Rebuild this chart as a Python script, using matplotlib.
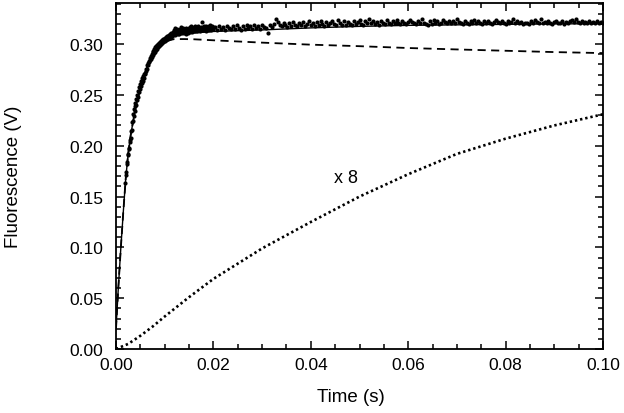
import numpy as np
import matplotlib
matplotlib.use("Agg")
import matplotlib.pyplot as plt
from matplotlib.ticker import MultipleLocator, FormatStrFormatter

plt.rcParams['font.family'] = ['Liberation Sans', 'DejaVu Sans']

# measured points, fast part (instrument time base 0.1 ms)
t_fast = np.linspace(0.0019, 0.0200, 182)
f_fast = [
    0.163, 0.171, 0.174, 0.182, 0.184, 0.191, 0.192, 0.198, 0.197, 0.204,
    0.206, 0.208, 0.215, 0.216, 0.223, 0.224, 0.231, 0.229, 0.236, 0.234,
    0.239, 0.242, 0.240, 0.246, 0.245, 0.250, 0.248, 0.254, 0.253, 0.258,
    0.256, 0.261, 0.259, 0.264, 0.262, 0.267, 0.264, 0.269, 0.267, 0.271,
    0.272, 0.271, 0.276, 0.274, 0.279, 0.276, 0.281, 0.279, 0.283, 0.282,
    0.286, 0.284, 0.288, 0.285, 0.290, 0.287, 0.292, 0.289, 0.293, 0.291,
    0.295, 0.292, 0.297, 0.294, 0.298, 0.295, 0.299, 0.297, 0.300, 0.298,
    0.301, 0.299, 0.302, 0.300, 0.303, 0.301, 0.304, 0.302, 0.305, 0.303,
    0.305, 0.303, 0.306, 0.304, 0.307, 0.305, 0.308, 0.305, 0.308, 0.306,
    0.309, 0.306, 0.310, 0.307, 0.311, 0.308, 0.310, 0.309, 0.312, 0.309,
    0.311, 0.314, 0.309, 0.316, 0.310, 0.312, 0.311, 0.315, 0.310, 0.313,
    0.312, 0.310, 0.315, 0.311, 0.313, 0.317, 0.311, 0.313, 0.312, 0.316,
    0.311, 0.314, 0.312, 0.313, 0.310, 0.316, 0.312, 0.314, 0.313, 0.311,
    0.316, 0.313, 0.317, 0.312, 0.314, 0.313, 0.318, 0.312, 0.315, 0.314,
    0.313, 0.317, 0.314, 0.318, 0.313, 0.315, 0.314, 0.317, 0.313, 0.315,
    0.318, 0.314, 0.316, 0.315, 0.313, 0.317, 0.314, 0.322, 0.315, 0.314,
    0.317, 0.314, 0.318, 0.315, 0.316, 0.313, 0.318, 0.315, 0.314, 0.317,
    0.315, 0.318, 0.314, 0.316, 0.315, 0.319, 0.314, 0.316, 0.315, 0.318,
    0.315, 0.317,
]

# measured points, slow part (time base 0.4 ms)
t_slow = np.linspace(0.0204, 0.1000, 200)
f_slow = [
    0.317, 0.314, 0.318, 0.315, 0.317, 0.314, 0.318, 0.316, 0.315, 0.318,
    0.315, 0.319, 0.316, 0.314, 0.318, 0.315, 0.319, 0.316, 0.318, 0.315,
    0.319, 0.316, 0.318, 0.315, 0.319, 0.317, 0.316, 0.311, 0.319, 0.317,
    0.320, 0.325, 0.322, 0.319, 0.318, 0.321, 0.319, 0.317, 0.321, 0.318,
    0.322, 0.319, 0.318, 0.321, 0.319, 0.322, 0.318, 0.320, 0.323, 0.319,
    0.321, 0.318, 0.322, 0.319, 0.323, 0.320, 0.318, 0.322, 0.319, 0.321,
    0.323, 0.320, 0.319, 0.324, 0.321, 0.319, 0.323, 0.319, 0.322, 0.320,
    0.319, 0.323, 0.320, 0.322, 0.324, 0.320, 0.319, 0.323, 0.321, 0.325,
    0.321, 0.323, 0.320, 0.322, 0.319, 0.323, 0.321, 0.320, 0.324, 0.321,
    0.320, 0.323, 0.321, 0.324, 0.321, 0.320, 0.323, 0.321, 0.320, 0.322,
    0.324, 0.322, 0.321, 0.320, 0.323, 0.321, 0.325, 0.321, 0.320, 0.319,
    0.323, 0.320, 0.324, 0.321, 0.323, 0.320, 0.321, 0.324, 0.322, 0.321,
    0.323, 0.321, 0.323, 0.321, 0.325, 0.322, 0.321, 0.320, 0.323, 0.321,
    0.320, 0.323, 0.321, 0.324, 0.321, 0.323, 0.321, 0.320, 0.323, 0.321,
    0.323, 0.321, 0.320, 0.322, 0.324, 0.322, 0.321, 0.323, 0.321, 0.320,
    0.323, 0.321, 0.322, 0.325, 0.321, 0.323, 0.321, 0.322, 0.320, 0.321,
    0.321, 0.320, 0.323, 0.321, 0.324, 0.322, 0.321, 0.325, 0.321, 0.322,
    0.321, 0.323, 0.321, 0.320, 0.322, 0.323, 0.321, 0.321, 0.323, 0.320,
    0.322, 0.321, 0.323, 0.324, 0.322, 0.325, 0.322, 0.321, 0.323, 0.321,
    0.322, 0.321, 0.323, 0.321, 0.322, 0.321, 0.323, 0.321, 0.322, 0.321,
]

# fitted curves
t_fit = [0, 0.0005, 0.001, 0.0015, 0.002, 0.0025, 0.003, 0.004, 0.005, 0.006,
         0.007, 0.008, 0.009, 0.010, 0.012, 0.014, 0.016, 0.02, 0.03, 0.04,
         0.05, 0.06, 0.07, 0.08, 0.09, 0.10]
f_total = [0.020, 0.062, 0.100, 0.135, 0.168, 0.192, 0.210, 0.237, 0.257, 0.272,
           0.284, 0.293, 0.299, 0.303, 0.308, 0.310, 0.311, 0.3125, 0.314, 0.316,
           0.3175, 0.3185, 0.319, 0.3195, 0.320, 0.320]
f_fastcomp = [0.020, 0.062, 0.100, 0.135, 0.168, 0.192, 0.210, 0.237, 0.257, 0.272,
              0.284, 0.293, 0.299, 0.303, 0.305, 0.305, 0.3048, 0.3038, 0.3015, 0.2995,
              0.298, 0.2962, 0.2948, 0.2935, 0.2922, 0.2912]

# slow component, shown multiplied by 8
t_slowcomp = [0, 0.0025, 0.005, 0.0075, 0.01, 0.015, 0.02, 0.03, 0.04, 0.05, 0.06,
              0.07, 0.08, 0.09, 0.10]
f_slowcomp_x8 = [0, 0.005, 0.013, 0.022, 0.032, 0.051, 0.069, 0.099, 0.125, 0.150,
                 0.172, 0.192, 0.207, 0.220, 0.231]

fig = plt.figure(figsize=(6.24, 4.14), dpi=100)
ax = fig.add_axes([116 / 624, 1 - 350 / 414, 487 / 624, 346 / 414])

ax.plot(t_fit, f_fastcomp, color='black', lw=1.3, dashes=(4.5, 3))
ax.plot(t_slowcomp, f_slowcomp_x8, color='black', lw=1.9, dashes=(0.9, 1.1))
ax.plot(t_fit, f_total, color='black', lw=1.0)
ax.plot(t_fast, f_fast, 'o', color='black', ms=3.0, mew=0)
ax.plot(t_slow, f_slow, 'o', color='black', ms=3.0, mew=0)

ax.text(0.0448, 0.169, 'x 8', fontsize=13, va='center', ha='left')

ax.set_xlim(0, 0.1)
ax.set_ylim(0, 0.3405)
ax.xaxis.set_major_locator(MultipleLocator(0.02))
ax.xaxis.set_minor_locator(MultipleLocator(0.005))
ax.yaxis.set_major_locator(MultipleLocator(0.05))
ax.yaxis.set_minor_locator(MultipleLocator(0.01))
ax.xaxis.set_major_formatter(FormatStrFormatter('%.2f'))
ax.yaxis.set_major_formatter(FormatStrFormatter('%.2f'))

ax.tick_params(which='both', direction='in', top=True, right=True, width=1.1,
               labelsize=12.5)
ax.tick_params(which='major', length=6)
ax.tick_params(which='minor', length=3.3)
ax.tick_params(axis='y', pad=9)
ax.tick_params(axis='x', pad=6)
for s in ax.spines.values():
    s.set_linewidth(1.3)

ax.set_xlabel('Time (s)', fontsize=13.5)
ax.set_ylabel('Fluorescence (V)', fontsize=13.5)
ax.xaxis.set_label_coords(235 / 487, -0.113)
ax.yaxis.set_label_coords(-0.193, 0.5)

fig.savefig('out.png', dpi=100)
